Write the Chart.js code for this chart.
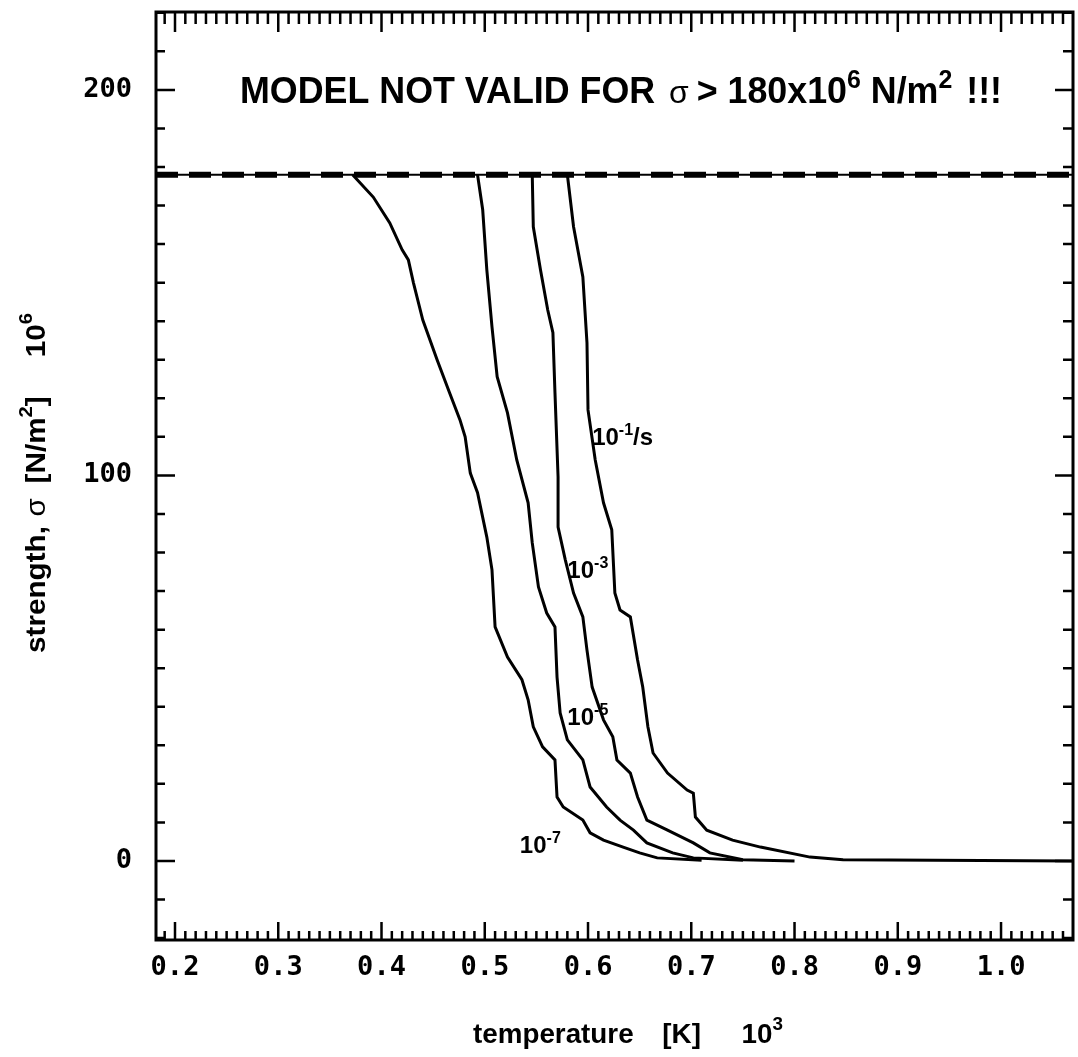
<!DOCTYPE html>
<html>
<head>
<meta charset="utf-8">
<script src="https://cdn.jsdelivr.net/npm/chart.js@4.4.0/dist/chart.umd.min.js"></script>
<style>
  html, body { margin: 0; padding: 0; background: #fff; }
  #wrap { width: 1078px; height: 1057px; position: relative; }
</style>
</head>
<body>
<div id="wrap"><canvas id="strengthChart"></canvas></div>
<script>
/* data: temperature [K]/1000 vs strength [N/m2]/1e6 */
const tempR7 = [0.372, 0.392, 0.408, 0.420, 0.426, 0.431, 0.440, 0.454, 0.466, 0.476, 0.481, 0.486, 0.493, 0.502, 0.507, 0.510, 0.522, 0.536, 0.542, 0.547, 0.556, 0.568, 0.570, 0.576, 0.595, 0.602, 0.615, 0.634, 0.650, 0.667, 0.710];
const sigR7 = [178, 172.2, 165.5, 158.5, 155.9, 149.9, 140.3, 129.9, 121.4, 114.4, 110.0, 100.6, 95.5, 84.0, 75.5, 60.7, 52.9, 47.0, 41.8, 34.8, 29.6, 26.2, 16.6, 14.0, 10.6, 7.3, 5.4, 3.6, 2.1, 0.8, 0.2];

const tempR5 = [0.493, 0.498, 0.502, 0.507, 0.512, 0.522, 0.531, 0.542, 0.546, 0.552, 0.560, 0.568, 0.570, 0.573, 0.580, 0.595, 0.602, 0.618, 0.631, 0.644, 0.657, 0.682, 0.702, 0.750];
const sigR5 = [178, 168.9, 153.3, 138.5, 125.6, 116.2, 104.0, 92.9, 82.5, 71.1, 64.3, 60.7, 47.7, 38.4, 31.4, 26.2, 19.2, 14.0, 10.6, 8.0, 4.7, 2.1, 0.8, 0.2];

const tempR3 = [0.546, 0.547, 0.554, 0.561, 0.566, 0.568, 0.571, 0.571, 0.578, 0.586, 0.595, 0.599, 0.604, 0.615, 0.624, 0.628, 0.641, 0.648, 0.657, 0.677, 0.702, 0.718, 0.750, 0.800];
const sigR3 = [178, 164.5, 153.3, 142.9, 137.0, 121.4, 99.6, 86.6, 78.1, 69.5, 63.3, 54.7, 45.1, 36.6, 32.2, 26.2, 22.8, 16.6, 10.6, 8.0, 4.7, 2.1, 0.3, 0];

const tempR1 = [0.580, 0.586, 0.595, 0.599, 0.600, 0.607, 0.615, 0.623, 0.626, 0.631, 0.641, 0.648, 0.653, 0.658, 0.663, 0.677, 0.696, 0.702, 0.704, 0.715, 0.740, 0.767, 0.815, 0.847, 1.07];
const sigR1 = [178, 164.5, 151.5, 134.4, 117.0, 104.0, 92.9, 85.9, 69.5, 65.1, 63.3, 52.1, 45.1, 34.8, 28.0, 22.8, 18.4, 17.6, 11.4, 8.0, 5.4, 3.6, 1.0, 0.3, 0];

const capLevel = 178;          // dashed "model not valid" line
const xRange = [0.1816, 1.0697];
const yRange = [-20.5, 220.2];
const xTickVals = [0.2, 0.3, 0.4, 0.5, 0.6, 0.7, 0.8, 0.9, 1.0];
const yTickVals = [0, 100, 200];

// curve labels (left x, baseline y, exponent)
const labelX = [0.604, 0.580, 0.580, 0.534];
const labelY = [107.9, 73.4, 35.3, 2.1];
const labelExp = ['-1', '-3', '-5', '-7'];
const labelTail = ['/s', '', '', ''];

function pts(xs, ys) {
    return xs.map((x, i) => ({ x: x, y: ys[i] }));
}

/* draw a row of text pieces (superscripts etc), fitted to a width if given */
function drawRich(ctx, parts, x, y, align, fitW) {
    let total = 0;
    parts.forEach(p => {
        ctx.font = p.font;
        p.w = ctx.measureText(p.t).width;
        total += (p.gap || 0) + p.w;
    });
    const sx = fitW ? fitW / total : 1;
    ctx.save();
    ctx.translate(x, y);
    ctx.scale(sx, 1);
    let cx = align === 'center' ? -total / 2 : 0;
    ctx.textBaseline = 'alphabetic';
    ctx.textAlign = 'left';
    ctx.fillStyle = '#000';
    parts.forEach(p => {
        cx += (p.gap || 0);
        ctx.font = p.font;
        ctx.fillText(p.t, cx, p.dy || 0);
        cx += p.w;
    });
    ctx.restore();
}

const B = 'Liberation Sans';

const framePlugin = {
    id: 'frame',
    afterDraw(chart) {
        const ctx = chart.ctx;
        const a = chart.chartArea;
        const xs = chart.scales.x, ys = chart.scales.y;
        ctx.save();
        ctx.strokeStyle = '#000';
        ctx.lineWidth = 3;
        ctx.strokeRect(a.left, a.top, a.right - a.left, a.bottom - a.top);

        // inward ticks
        ctx.lineWidth = 2.5;
        ctx.beginPath();
        for (let i = 19; i <= 106; i++) {
            const px = xs.getPixelForValue(i / 100);
            const big = i % 10 === 0;
            ctx.moveTo(px, a.bottom); ctx.lineTo(px, a.bottom - (big ? 18 : 9));
            ctx.moveTo(px, a.top); ctx.lineTo(px, a.top + (big ? 20 : 12));
        }
        for (let v = -20; v <= 220; v += 10) {
            const py = ys.getPixelForValue(v);
            const big = v % 100 === 0;
            ctx.moveTo(a.left, py); ctx.lineTo(a.left + (big ? 19 : 9), py);
            ctx.moveTo(a.right, py); ctx.lineTo(a.right - (big ? 18 : 10), py);
        }
        ctx.stroke();

        // curve labels
        for (let i = 0; i < labelX.length; i++) {
            const px = xs.getPixelForValue(labelX[i]);
            const py = ys.getPixelForValue(labelY[i]);
            const parts = [
                { t: '10', font: 'bold 24px ' + B },
                { t: labelExp[i], font: 'bold 16px ' + B, dy: -10 }
            ];
            if (labelTail[i]) parts.push({ t: labelTail[i], font: 'bold 24px ' + B });
            drawRich(ctx, parts, px, py, 'left');
        }

        // title inside the plot
        drawRich(ctx, [
            { t: 'MODEL NOT VALID FOR', font: 'bold 36px ' + B },
            { t: 'σ', font: '32px ' + B, gap: 14 },
            { t: '> 180x10', font: 'bold 36px ' + B, gap: 8 },
            { t: '6', font: 'bold 25px ' + B, dy: -15 },
            { t: 'N/m', font: 'bold 36px ' + B, gap: 10 },
            { t: '2', font: 'bold 25px ' + B, dy: -15 },
            { t: '!!!', font: 'bold 36px ' + B, gap: 14 }
        ], 240, 103, 'left', 762);

        // axis titles
        drawRich(ctx, [
            { t: 'temperature', font: 'bold 28px ' + B },
            { t: '[K]', font: 'bold 28px ' + B, gap: 29 },
            { t: '10', font: 'bold 28px ' + B, gap: 41 },
            { t: '3', font: 'bold 19px ' + B, dy: -13 }
        ], 628, 1043, 'center', 310);

        ctx.translate(45, 483);
        ctx.rotate(-Math.PI / 2);
        drawRich(ctx, [
            { t: 'strength,', font: 'bold 28px ' + B },
            { t: 'σ', font: '28px ' + B, gap: 9 },
            { t: '[N/m', font: 'bold 28px ' + B, gap: 14 },
            { t: '2', font: 'bold 19px ' + B, dy: -13 },
            { t: ']', font: 'bold 28px ' + B },
            { t: '10', font: 'bold 28px ' + B, gap: 37 },
            { t: '6', font: 'bold 19px ' + B, dy: -13 }
        ], 0, 0, 'center', 340);
        ctx.restore();
    }
};

function curve(data) {
    return {
        data: data,
        borderColor: '#000',
        borderWidth: 3,
        pointRadius: 0,
        tension: 0,
        fill: false
    };
}

const tickFont = { family: 'DejaVu Sans Mono', size: 27, weight: 'bold' };

const ctx = document.getElementById('strengthChart').getContext('2d');
new Chart(ctx, {
    type: 'line',
    data: {
        datasets: [
            { data: pts(xRange, [capLevel, capLevel]), borderColor: '#000', borderWidth: 2, pointRadius: 0 },
            { data: pts(xRange, [capLevel, capLevel]), borderColor: '#000', borderWidth: 6, borderDash: [22, 11], pointRadius: 0 },
            curve(pts(tempR7, sigR7)),
            curve(pts(tempR5, sigR5)),
            curve(pts(tempR3, sigR3)),
            curve(pts(tempR1, sigR1))
        ]
    },
    options: {
        responsive: true,
        maintainAspectRatio: false,
        animation: false,
        layout: { padding: { top: 12, right: 5, left: 0, bottom: 0 } },
        plugins: { legend: { display: false }, tooltip: { enabled: false } },
        scales: {
            x: {
                type: 'linear',
                min: xRange[0],
                max: xRange[1],
                grid: { display: false, drawTicks: false },
                border: { display: false },
                afterBuildTicks: s => { s.ticks = xTickVals.map(v => ({ value: v })); },
                afterFit: s => { s.height = 117; s.paddingLeft = 0; s.paddingRight = 0; },
                ticks: {
                    color: '#000',
                    font: tickFont,
                    padding: 12,
                    maxRotation: 0,
                    autoSkip: false,
                    callback: v => v.toFixed(1)
                }
            },
            y: {
                type: 'linear',
                min: yRange[0],
                max: yRange[1],
                grid: { display: false, drawTicks: false },
                border: { display: false },
                afterBuildTicks: s => { s.ticks = yTickVals.map(v => ({ value: v })); },
                afterFit: s => { s.width = 156; s.paddingTop = 0; s.paddingBottom = 0; },
                ticks: {
                    color: '#000',
                    font: tickFont,
                    padding: 24,
                    autoSkip: false,
                    callback: v => String(v)
                }
            }
        }
    },
    plugins: [framePlugin]
});
</script>
</body>
</html>
